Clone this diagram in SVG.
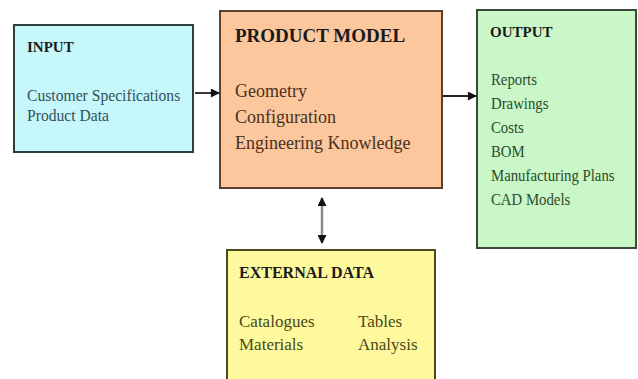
<svg xmlns="http://www.w3.org/2000/svg" width="638" height="379" viewBox="0 0 638 379">
  <style>
    .box { stroke-width: 2; }
    .head { font-family: "Liberation Serif", "Times New Roman", serif; font-weight: bold; fill: #1a1a1a; }
    .body { font-family: "Liberation Serif", "Times New Roman", serif; }
    .link { fill: none; stroke: #222; stroke-width: 1.8; }
    .dual { fill: none; stroke: #8a8a8a; stroke-width: 2.5; }
  </style>
  <defs>
    <marker id="tip" viewBox="0 0 10 10" refX="9" refY="5" markerWidth="10" markerHeight="9" markerUnits="userSpaceOnUse" orient="auto-start-reverse">
      <path d="M0,0 L10,5 L0,10 Z" fill="#111"/>
    </marker>
  </defs>

  <rect width="638" height="379" fill="#ffffff"/>

  <g id="input">
    <rect class="box" x="14" y="25" width="179" height="127" fill="#c6f7fb" stroke="#2e3e40"/>
    <text class="head" x="27" y="52" font-size="15">INPUT</text>
    <g class="body" font-size="17" fill="#34505a" transform="translate(27,0) scale(0.92,1)">
      <text x="0" y="101">Customer Specifications</text>
      <text x="0" y="121">Product Data</text>
    </g>
  </g>

  <g id="product-model">
    <rect class="box" x="220" y="11" width="222" height="177" fill="#fcc79c" stroke="#5a4030" stroke-width="2.5"/>
    <text class="head" x="235" y="42" font-size="19" fill="#2a1a10">PRODUCT MODEL</text>
    <g class="body" font-size="18" fill="#4a3020">
      <text x="235" y="97">Geometry</text>
      <text x="235" y="123">Configuration</text>
      <text x="235" y="149">Engineering Knowledge</text>
    </g>
  </g>

  <g id="output">
    <rect class="box" x="477" y="10" width="159" height="238" fill="#c9f7c7" stroke="#3a4a3a"/>
    <text class="head" x="490" y="37" font-size="15" fill="#142a14">OUTPUT</text>
    <g class="body" font-size="17" fill="#2c4a2c" transform="translate(491,0) scale(0.87,1)">
      <text x="0" y="85">Reports</text>
      <text x="0" y="109">Drawings</text>
      <text x="0" y="133">Costs</text>
      <text x="0" y="157">BOM</text>
      <text x="0" y="181">Manufacturing Plans</text>
      <text x="0" y="205">CAD Models</text>
    </g>
  </g>

  <g id="external-data">
    <rect class="box" x="227" y="250" width="208" height="140" fill="#fdf99c" stroke="#4a4a20"/>
    <text class="head" x="239" y="278" font-size="16" fill="#1a1a08">EXTERNAL DATA</text>
    <g class="body" font-size="17" fill="#4a4a1a">
      <text x="239" y="327">Catalogues</text>
      <text x="239" y="350">Materials</text>
      <text x="358" y="327">Tables</text>
      <text x="358" y="350">Analysis</text>
    </g>
  </g>

  <g id="connectors">
    <line class="link" x1="195" y1="93" x2="219" y2="93" marker-end="url(#tip)"/>
    <line class="link" x1="443" y1="96" x2="476" y2="96" marker-end="url(#tip)"/>
    <line class="dual" x1="322" y1="198" x2="322" y2="243" marker-start="url(#tip)" marker-end="url(#tip)"/>
  </g>
</svg>
